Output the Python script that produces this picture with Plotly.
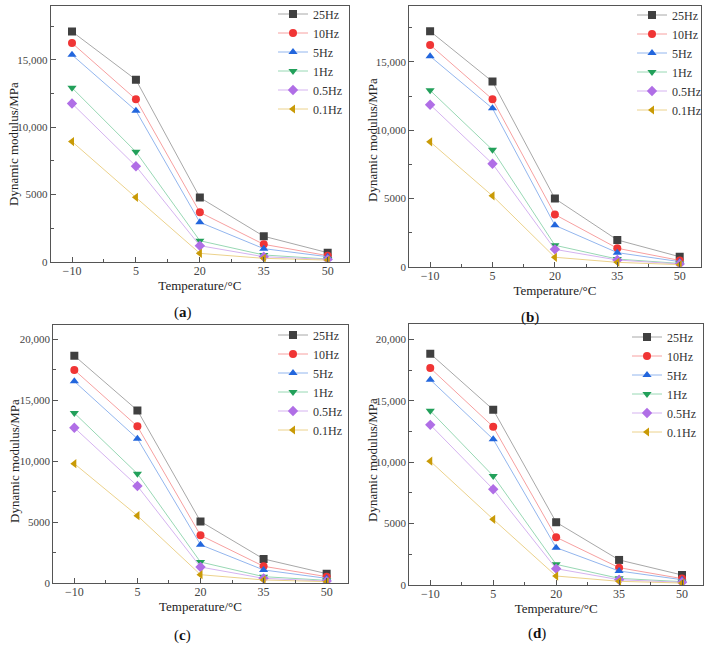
import plotly.graph_objects as go

temps = [-10, 5, 20, 35, 50]
freq_names = ["25Hz", "10Hz", "5Hz", "1Hz", "0.5Hz", "0.1Hz"]

# Panel (a)
a_25 = [17110, 13530, 4770, 1890, 670]
a_10 = [16260, 12070, 3670, 1290, 450]
a_5 = [15380, 11230, 2930, 970, 370]
a_1 = [12930, 8170, 1560, 500, 200]
a_05 = [11760, 7100, 1190, 370, 170]
a_01 = [8930, 4790, 620, 250, 120]
# Panel (b)
b_25 = [17250, 13560, 4990, 1960, 730]
b_10 = [16250, 12260, 3820, 1350, 460]
b_5 = [15420, 11600, 3030, 1030, 370]
b_1 = [12920, 8560, 1570, 560, 240]
b_05 = [11870, 7540, 1270, 490, 200]
b_01 = [9150, 5190, 690, 320, 150]
# Panel (c)
c_25 = [18630, 14150, 5050, 1970, 765]
c_10 = [17460, 12840, 3910, 1370, 520]
c_5 = [16530, 11830, 3140, 1070, 380]
c_1 = [13930, 8960, 1720, 520, 220]
c_05 = [12730, 7950, 1310, 380, 160]
c_01 = [9780, 5520, 680, 250, 110]
# Panel (d)
d_25 = [18830, 14270, 5110, 2040, 815]
d_10 = [17660, 12880, 3890, 1410, 520]
d_5 = [16710, 11870, 3040, 1140, 430]
d_1 = [14180, 8880, 1680, 540, 270]
d_05 = [13040, 7800, 1330, 430, 220]
d_01 = [10080, 5350, 730, 300, 160]

x_tickvals = [-10, 5, 20, 35, 50]
x_ticktext = ["\u221210", "5", "20", "35", "50"]
y_tickvals = [0, 5000, 10000, 15000, 20000]
y_ticktext = ["0", "5000", "10,000", "15,000", "20,000"]
panel_labels = ["a", "b", "c", "d"]
x_title = "Temperature/\u00b0C"
y_title = "Dynamic modulus/MPa"

symbols = ["square", "circle", "triangle-up", "triangle-down", "diamond", "triangle-left"]
marker_colors = ["#404040", "#f03535", "#2266dd", "#22a05a", "#b06ee6", "#c99a06"]
line_colors = ["#a8a8a8", "#f7a0a0", "#93b6ee", "#98d8b4", "#d5b3f0", "#ecd28c"]

panels = [
    [a_25, a_10, a_5, a_1, a_05, a_01],
    [b_25, b_10, b_5, b_1, b_05, b_01],
    [c_25, c_10, c_5, c_1, c_05, c_01],
    [d_25, d_10, d_5, d_1, d_05, d_01],
]

W, H = 713, 651
FONT = "Liberation Serif, Times New Roman, serif"

# plot boxes in px: (left, right, top, bottom)
boxes = [
    (50.7, 349.0, 5.5, 261.7),
    (409.3, 700.5, 6.0, 266.7),
    (53.3, 347.7, 325.0, 583.0),
    (409.3, 703.0, 324.0, 585.0),
]
y_tops = [19050, 19100, 21150, 21250]
legend_pos = [(273, -0.5), (632, 0.5), (273, 320.5), (627, 322.5)]
label_pos = [(183, 313), (530, 317), (182, 635), (537, 633)]
ytitle_pos = [(13, 144), (372, 140), (14, 461), (372, 460)]

fig = go.Figure()
layout = dict(
    width=W, height=H,
    margin=dict(l=0, r=0, t=0, b=0, autoexpand=False),
    paper_bgcolor="white", plot_bgcolor="white",
    font=dict(family=FONT, color="#222"),
    annotations=[],
)

for p, series in enumerate(panels):
    sfx = "" if p == 0 else str(p + 1)
    leg = "legend" if p == 0 else "legend" + str(p + 1)
    for k, vals in enumerate(series):
        fig.add_trace(go.Scatter(
            x=temps, y=vals, mode="lines+markers", name=freq_names[k],
            xaxis="x" + sfx, yaxis="y" + sfx, legend=leg,
            line=dict(color=line_colors[k], width=1),
            marker=dict(symbol=symbols[k], color=marker_colors[k], size=8,
                        line=dict(width=0)),
        ))
    l, r, t, b = boxes[p]
    axis_common = dict(
        showline=True, linecolor="#555", linewidth=1, mirror=True,
        showgrid=False, zeroline=False, ticks="inside", ticklen=5,
        tickcolor="#555", automargin=False,
    )
    layout["xaxis" + sfx] = dict(
        axis_common,
        domain=[l / W, r / W], anchor="y" + sfx, range=[-15, 55],
        tickmode="array", tickvals=x_tickvals, ticktext=x_ticktext,
        tickfont=dict(family=FONT, size=12, color="#444"),
        ticklabelstandoff=-2,
        minor=dict(tickmode="linear", tick0=-2.5, dtick=15, ticks="inside",
                   ticklen=3, tickcolor="#555"),
        title=dict(text=x_title, standoff=3,
                   font=dict(family=FONT, size=13, color="#222")),
    )
    yv = [v for v in y_tickvals if v <= y_tops[p]]
    yt = [y_ticktext[i] for i, v in enumerate(y_tickvals) if v <= y_tops[p]]
    layout["yaxis" + sfx] = dict(
        axis_common,
        domain=[1 - b / H, 1 - t / H], anchor="x" + sfx, range=[0, y_tops[p]],
        tickmode="array", tickvals=yv, ticktext=yt,
        tickfont=dict(family=FONT, size=11, color="#444"),
        minor=dict(tickmode="linear", tick0=0, dtick=2500, ticks="inside",
                   ticklen=3, tickcolor="#555"),
    )
    lx, ly = legend_pos[p]
    layout[leg] = dict(
        x=lx / W, y=1 - ly / H, xanchor="left", yanchor="top",
        bgcolor="rgba(0,0,0,0)", borderwidth=0,
        font=dict(family=FONT, size=12, color="#333"),
        itemwidth=30, tracegroupgap=0,
    )
    tx, ty = ytitle_pos[p]
    layout["annotations"].append(dict(
        text=y_title, x=tx / W, y=1 - ty / H, textangle=-90,
        xref="paper", yref="paper", showarrow=False,
        font=dict(family=FONT, size=13, color="#222"),
        xanchor="center", yanchor="middle",
    ))
    ax, ay = label_pos[p]
    layout["annotations"].append(dict(
        text="(<b>" + panel_labels[p] + "</b>)", x=ax / W, y=1 - ay / H,
        xref="paper", yref="paper", showarrow=False,
        font=dict(family=FONT, size=15, color="#111"),
        xanchor="center", yanchor="middle",
    ))

fig.update_layout(**layout)
fig.write_html(
    "out.html",
    config={"displayModeBar": False},
    post_script="document.body.style.margin='0';document.body.style.padding='0';"
                "document.documentElement.style.overflow='hidden';",
)
